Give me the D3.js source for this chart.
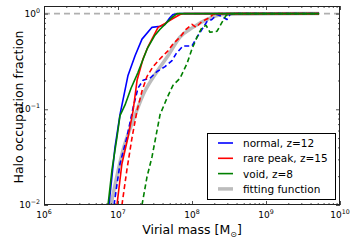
<!DOCTYPE html>
<html><head><meta charset="utf-8">
<script src="https://cdn.jsdelivr.net/npm/d3@7"></script>
<style>
html,body{margin:0;padding:0;background:#fff;}
svg{display:block;font-family:"DejaVu Sans",sans-serif;}
</style></head>
<body><svg id="c" width="357" height="244"></svg>
<script>
// ---- data ----
const massBlueSolid = [7.55e6, 9.10e6, 1.064e7, 1.365e7, 1.70e7, 2.11e7, 2.88e7, 3.70e7, 4.32e7, 5.05e7, 5.53e7, 6.89e7, 5.2e9];
const fracBlueSolid = [0.01, 0.040, 0.088, 0.226, 0.362, 0.541, 0.718, 0.736, 0.771, 0.910, 0.977, 1.0, 1.0];

const massRedSolid = [9.68e6, 1.13e7, 1.365e7, 1.60e7, 1.81e7, 2.18e7, 2.54e7, 2.97e7, 3.48e7, 4.32e7, 5.53e7, 6.89e7, 7.80e7, 5.2e9];
const fracRedSolid = [0.01, 0.027, 0.051, 0.097, 0.201, 0.337, 0.448, 0.567, 0.718, 0.789, 0.889, 0.977, 1.0, 1.0];

const massGreenSolid = [7.33e6, 8.30e6, 9.68e6, 1.064e7, 1.245e7, 1.50e7, 1.86e7, 2.47e7, 3.16e7, 3.70e7, 4.59e7, 5.37e7, 6.27e7, 5.2e9];
const fracGreenSolid = [0.01, 0.0234, 0.051, 0.0858, 0.111, 0.166, 0.242, 0.427, 0.595, 0.685, 0.809, 0.910, 1.0, 1.0];

const massBlueDashed = [8.83e6, 1.064e7, 1.32e7, 1.60e7, 1.86e7, 2.18e7, 2.70e7, 3.37e7, 4.32e7, 5.37e7, 6.08e7, 7.55e7, 1.0e8, 1.17e8, 1.365e8, 1.60e8, 1.86e8, 2.18e8, 2.54e8, 2.97e8, 3.26e8, 3.81e8, 5.2e9];
const fracBlueDashed = [0.01, 0.027, 0.051, 0.104, 0.166, 0.201, 0.211, 0.248, 0.279, 0.322, 0.380, 0.459, 0.459, 0.567, 0.685, 0.828, 0.868, 0.977, 0.931, 0.868, 0.977, 1.0, 1.0];

const massRedDashed = [1.13e7, 1.32e7, 1.55e7, 1.81e7, 2.11e7, 2.47e7, 2.97e7, 3.70e7, 4.74e7, 5.53e7, 6.89e7, 8.30e7, 1.0e8, 1.13e8, 1.365e8, 1.64e8, 1.92e8, 2.24e8, 5.2e9];
const fracRedDashed = [0.01, 0.0234, 0.051, 0.097, 0.155, 0.221, 0.279, 0.337, 0.408, 0.481, 0.567, 0.685, 0.771, 0.718, 0.828, 0.889, 0.977, 1.0, 1.0];

const massGreenDashed = [2.11e7, 2.47e7, 2.88e7, 3.37e7, 3.70e7, 4.59e7, 5.53e7, 6.89e7, 8.55e7, 1.0e8, 1.17e8, 1.365e8, 1.55e8, 1.75e8, 2.18e8, 2.54e8, 2.88e8, 3.37e8, 5.2e9];
const fracGreenDashed = [0.01, 0.0198, 0.0318, 0.0602, 0.0879, 0.131, 0.178, 0.211, 0.300, 0.427, 0.567, 0.718, 0.753, 0.638, 0.654, 0.809, 0.954, 1.0, 1.0];

const massFit = [8.04e6, 1.17e7, 1.60e7, 2.18e7, 3.37e7, 4.74e7, 6.89e7, 1.03e8, 1.60e8, 2.62e8, 4.46e8, 1.13e9, 5.2e9];
const fracFit = [0.01, 0.0375, 0.0762, 0.141, 0.248, 0.362, 0.567, 0.718, 0.868, 0.977, 0.99, 0.997, 1.0];

const legendLabels = ["normal, z=12", "rare peak, z=15", "void, z=8", "fitting function"];
const xTickExp = [6, 7, 8, 9, 10];
const yTickExp = [0, -1, -2];
const xDomain = [1e6, 1e10];
const yDomain = [0.01, 1.2];

// ---- layout ----
const L = 44, R = 340, T = 6, B = 205;
const svg = d3.select("#c");
const x = d3.scaleLog().domain(xDomain).range([L, R]);
const y = d3.scaleLog().domain(yDomain).range([B, T]);

svg.append("defs").append("clipPath").attr("id", "clip")
  .append("rect").attr("x", L).attr("y", T).attr("width", R - L).attr("height", B - T);
const plot = svg.append("g").attr("clip-path", "url(#clip)");

// reference line at 1
plot.append("line").attr("x1", L).attr("x2", R).attr("y1", y(1)).attr("y2", y(1))
  .attr("stroke", "#b0b0b0").attr("stroke-width", 1.6).attr("stroke-dasharray", "6,4");

const line = d3.line().x(d => x(d[0])).y(d => y(d[1]));
const smooth = d3.line().x(d => x(d[0])).y(d => y(d[1])).curve(d3.curveMonotoneX);
const zip = (a, b) => a.map((v, i) => [v, b[i]]);

plot.append("path").attr("d", smooth(zip(massFit, fracFit)))
  .attr("fill", "none").attr("stroke", "#bcbcbc").attr("stroke-width", 3.5);

const series = [
  [massBlueSolid, fracBlueSolid, "#0000ff", null],
  [massBlueDashed, fracBlueDashed, "#0000ff", "5,3"],
  [massRedSolid, fracRedSolid, "#ff0000", null],
  [massRedDashed, fracRedDashed, "#ff0000", "5,3"],
  [massGreenSolid, fracGreenSolid, "#008000", null],
  [massGreenDashed, fracGreenDashed, "#008000", "5,3"]
];
series.forEach(s => {
  const p = plot.append("path").attr("d", line(zip(s[0], s[1])))
    .attr("fill", "none").attr("stroke", s[2]).attr("stroke-width", 1.6)
    .attr("stroke-linejoin", "round");
  if (s[3]) p.attr("stroke-dasharray", s[3]);
});

// ---- axes (ticks inside, on all sides) ----
const minorX = [], minorY = [];
for (let e = 6; e < 10; e++) for (let k = 2; k <= 9; k++) minorX.push(k * Math.pow(10, e));
for (let e = -2; e < 0; e++) for (let k = 2; k <= 9; k++) minorY.push(k * Math.pow(10, e));
const majX = xTickExp.map(e => Math.pow(10, e));
const majY = yTickExp.map(e => Math.pow(10, e));

function addAxis(gen, tr, vals, size) {
  const g = svg.append("g").attr("transform", tr)
    .call(gen.tickValues(vals).tickSize(size).tickSizeOuter(0).tickFormat(""));
  g.select(".domain").remove();
  g.selectAll("line").attr("stroke", "#222").attr("stroke-width", 0.8);
}
addAxis(d3.axisBottom(x), `translate(0,${B})`, majX, -4);
addAxis(d3.axisBottom(x), `translate(0,${B})`, minorX, -2);
addAxis(d3.axisTop(x), `translate(0,${T})`, majX, -4);
addAxis(d3.axisTop(x), `translate(0,${T})`, minorX, -2);
addAxis(d3.axisLeft(y), `translate(${L},0)`, majY, -4);
addAxis(d3.axisLeft(y), `translate(${L},0)`, minorY, -2);
addAxis(d3.axisRight(y), `translate(${R},0)`, majY, -4);
addAxis(d3.axisRight(y), `translate(${R},0)`, minorY, -2);

svg.append("rect").attr("x", L + 0.5).attr("y", T + 0.5).attr("width", R - L - 1).attr("height", B - T - 1)
  .attr("fill", "none").attr("stroke", "#222").attr("stroke-width", 1);

// tick labels
xTickExp.forEach(e => {
  const t = svg.append("text").attr("x", x(Math.pow(10, e))).attr("y", B + 13)
    .attr("text-anchor", "middle").attr("font-size", 9).attr("fill", "#000");
  t.append("tspan").text("10");
  t.append("tspan").attr("font-size", 6.3).attr("dy", -4).text(String(e));
});
yTickExp.forEach(e => {
  const t = svg.append("text").attr("x", 40).attr("y", y(Math.pow(10, e)) + 3)
    .attr("text-anchor", "end").attr("font-size", 9).attr("fill", "#000");
  t.append("tspan").text("10");
  t.append("tspan").attr("font-size", 6.3).attr("dy", -4).text(e < 0 ? "\u2212" + (-e) : String(e));
});

// axis labels
const xl = svg.append("text").attr("x", 192).attr("y", 234).attr("text-anchor", "middle")
  .attr("font-size", 12.5).attr("fill", "#000");
xl.append("tspan").text("Virial mass [M");
xl.append("tspan").attr("font-size", 8).attr("dy", 3).text("\u2299");
xl.append("tspan").attr("dy", -3).text("]");

svg.append("text").attr("transform", "translate(23,107) rotate(-90)").attr("text-anchor", "middle")
  .attr("font-size", 12.5).attr("fill", "#000").text("Halo occupation fraction");

// legend
const lg = svg.append("g");
lg.append("rect").attr("x", 207.5).attr("y", 133.5).attr("width", 128).attr("height", 66)
  .attr("fill", "#fff").attr("stroke", "#000").attr("stroke-width", 1);
const legColors = ["#0000ff", "#ff0000", "#008000", "#bcbcbc"];
const legWidths = [1.6, 1.6, 1.6, 3.5];
legendLabels.forEach((lab, i) => {
  const yy = 143 + i * 15.3;
  lg.append("line").attr("x1", 218).attr("x2", 233).attr("y1", yy).attr("y2", yy)
    .attr("stroke", legColors[i]).attr("stroke-width", legWidths[i]);
  lg.append("text").attr("x", 243).attr("y", yy + 4).attr("font-size", 10.5).attr("fill", "#000").text(lab);
});
</script></body></html>
